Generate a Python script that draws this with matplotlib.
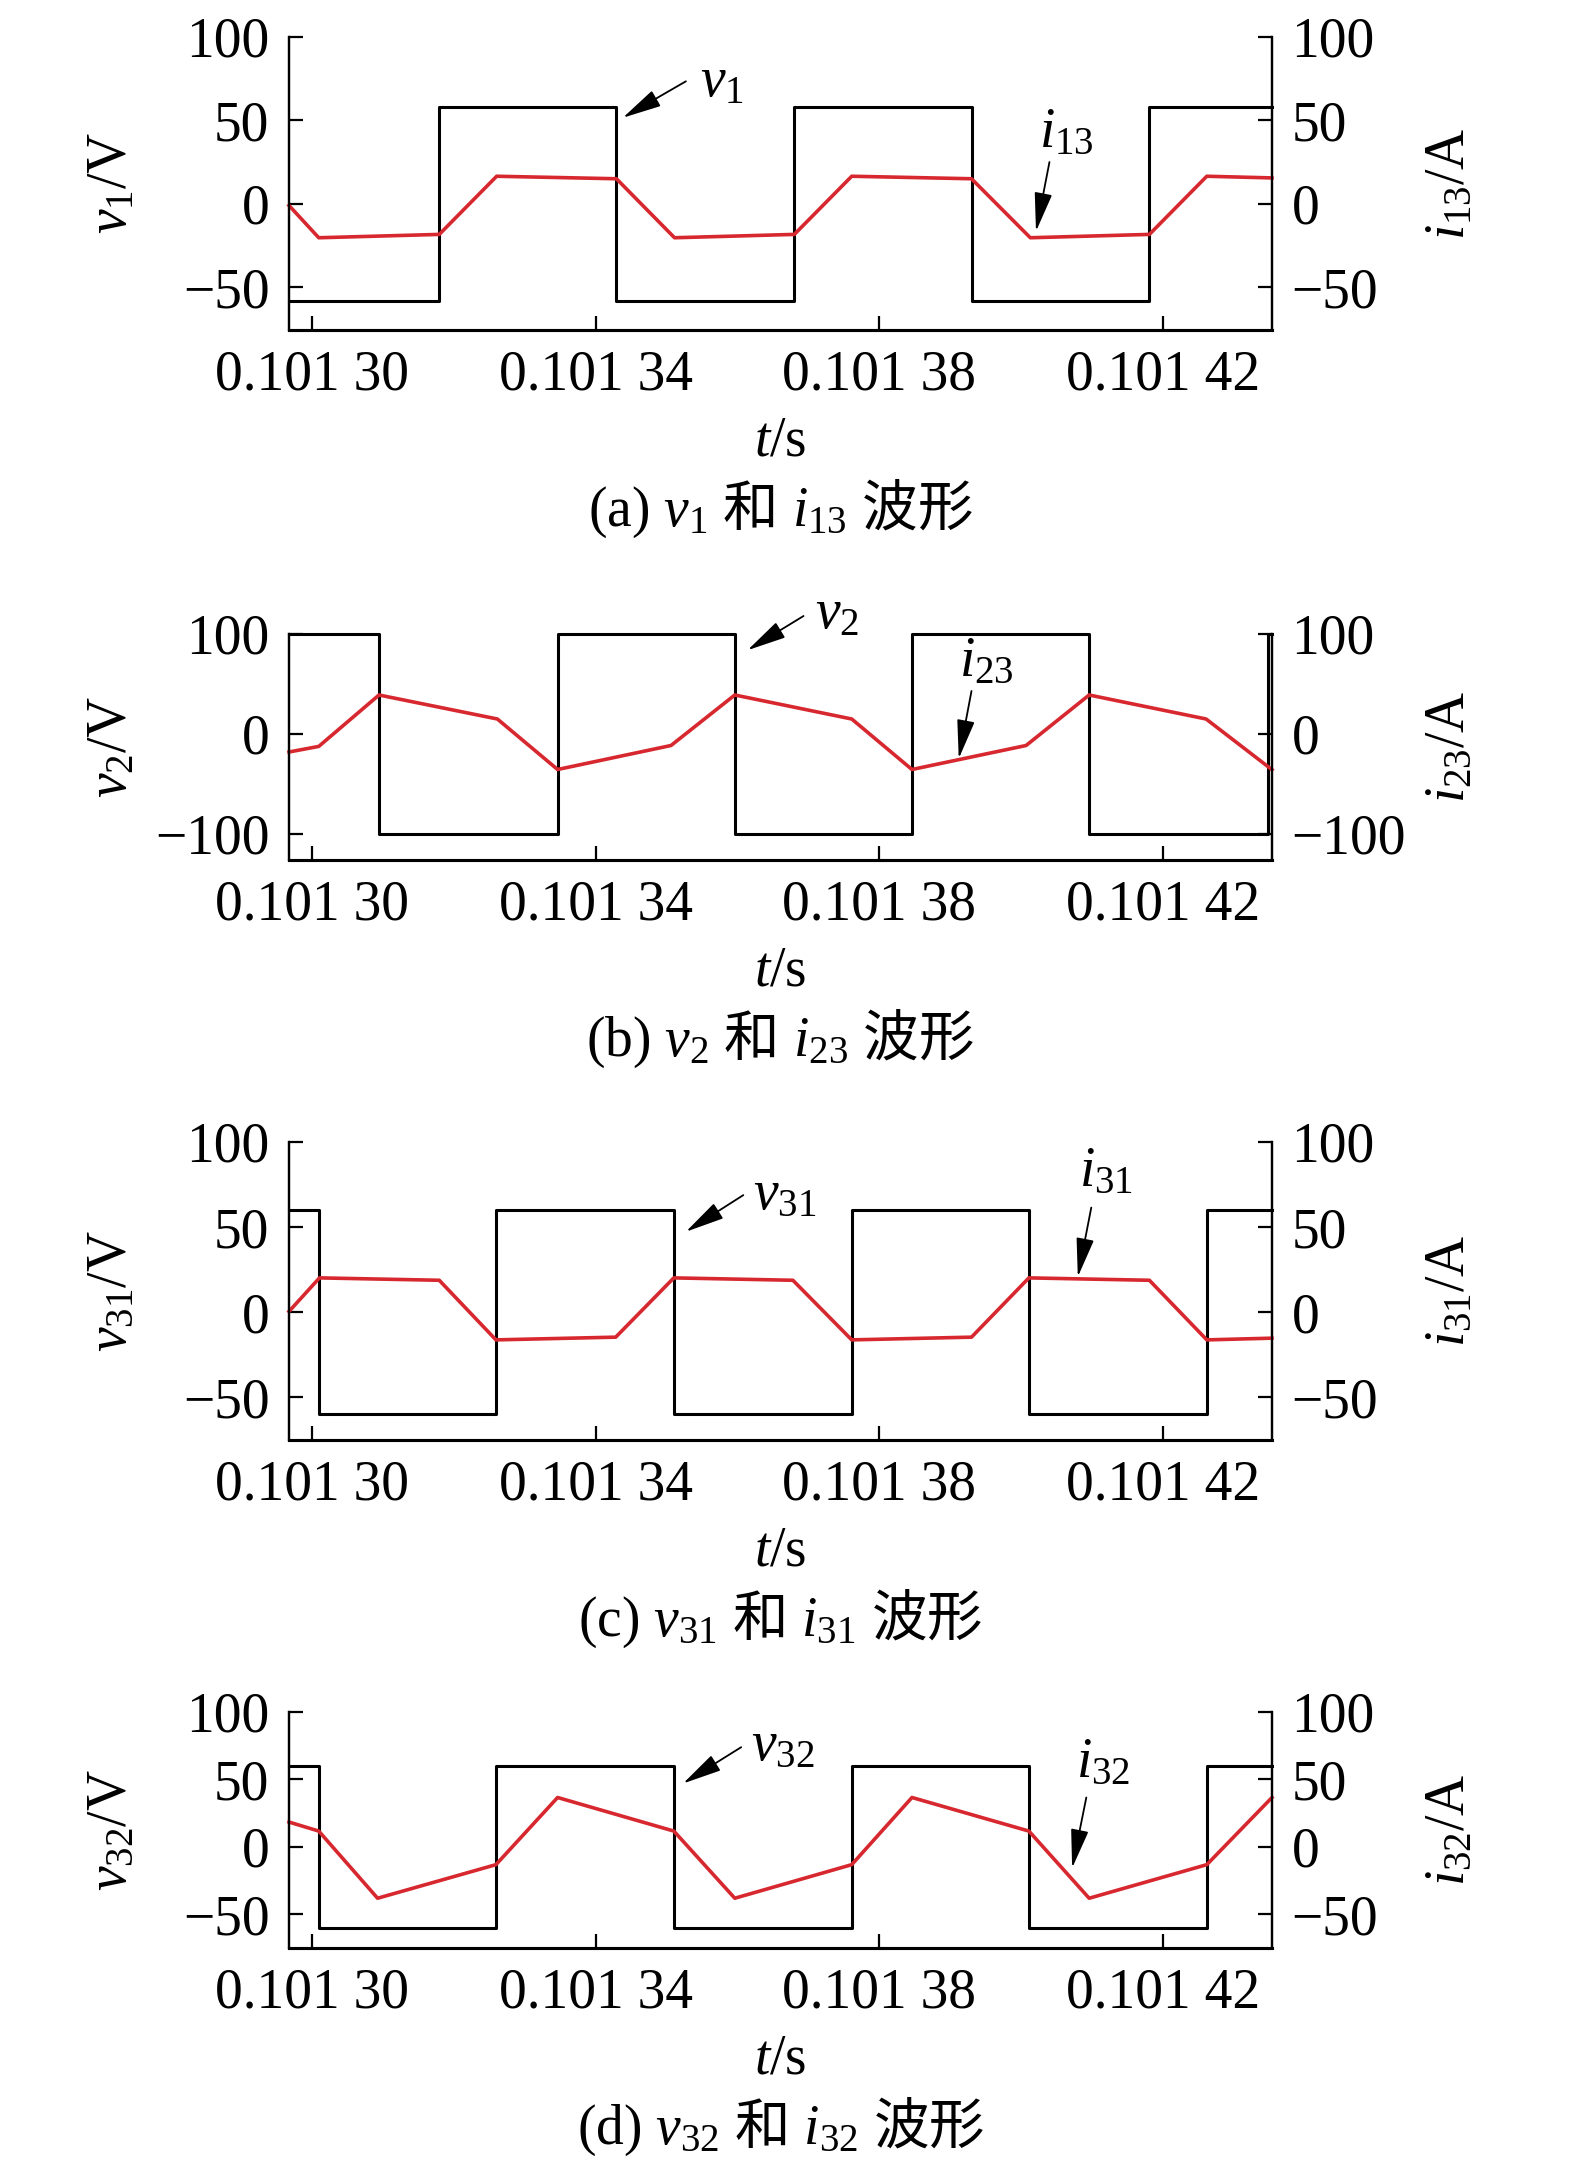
import matplotlib
matplotlib.use("Agg")
import matplotlib.pyplot as plt
import numpy as np

plt.rcParams["font.family"] = ["Liberation Serif", "Noto Sans CJK SC"]
plt.rcParams["mathtext.fontset"] = "custom"
plt.rcParams["mathtext.rm"] = "Liberation Serif"
plt.rcParams["mathtext.it"] = "Liberation Serif:italic"
plt.rcParams["mathtext.sf"] = "Noto Sans CJK SC"
plt.rcParams["font.size"] = 40

# time base: offsets in microseconds after 0.101 30 s
T0 = 0.10130
t_lim = (-3.3, 135.4)
xticks_us = [0, 40, 80, 120]
xtick_labels = ["0.101 30", "0.101 34", "0.101 38", "0.101 42"]

# (a) v1 / i13
v1_t = [-3.3, 17.9, 42.9, 68.0, 93.0, 118.1, 135.4]
v1 = [-58, 58, -58, 58, -58, 58, 58]
i13_t = [-3.3, 0.9, 17.9, 26.0, 42.9, 51.1, 68.0, 76.1, 93.0, 101.3, 118.1, 126.2, 135.4]
i13 = [-1.0, -20.3, -18.3, 16.5, 15.0, -20.3, -18.3, 16.5, 15.0, -20.3, -18.3, 16.5, 15.5]

# (b) v2 / i23
v2_t = [-3.3, 9.4, 34.6, 59.6, 84.6, 109.6, 134.8, 135.4]
v2 = [100, -100, 100, -100, 100, -100, 100, 100]
i23_t = [-3.3, 0.9, 9.4, 26.1, 34.6, 50.6, 59.6, 76.1, 84.6, 100.7, 109.6, 126.1, 135.4]
i23 = [-18.0, -12.4, 39.0, 15.0, -35.5, -11.5, 39.0, 15.0, -35.5, -11.5, 39.0, 15.0, -35.7]

# (c) v31 / i31
v31_t = [-3.3, 0.9, 25.9, 51.0, 76.1, 101.1, 126.2, 135.4]
v31 = [60, -60, 60, -60, 60, -60, 60, 60]
i31_t = [-3.3, 1.0, 17.9, 25.9, 42.8, 51.0, 67.8, 76.1, 93.0, 101.1, 118.1, 126.2, 135.4]
i31 = [0.5, 20.2, 18.8, -16.2, -14.6, 20.2, 18.8, -16.2, -14.6, 20.2, 18.8, -16.2, -15.2]

# (d) v32 / i32
v32_t = [-3.3, 0.9, 25.9, 51.0, 76.1, 101.1, 126.2, 135.4]
v32 = [60, -60, 60, -60, 60, -60, 60, 60]
i32_t = [-3.3, 0.9, 9.2, 25.9, 34.6, 51.0, 59.6, 76.1, 84.6, 101.1, 109.6, 126.2, 135.4]
i32 = [18.4, 11.7, -38.1, -13.2, 36.6, 11.7, -38.1, -13.2, 36.6, 11.7, -38.1, -13.2, 36.6]

panels = [
    dict(vt=v1_t, v=v1, it=i13_t, i=i13, ylim=(-75.5, 100), yticks=[-50, 0, 50, 100],
         vname="v_1", iname="i_{13}", tag="(a)", box=(36.7, 330),
         vtext=(54.7, 64.5), varrow=((52.7, 73.3), (43.8, 51.5)),
         itext=(102.5, 34.0), iarrow=((104.0, 25.0), (102.1, -16.5))),
    dict(vt=v2_t, v=v2, it=i23_t, i=i23, ylim=(-126, 100), yticks=[-100, 0, 100],
         vname="v_2", iname="i_{23}", tag="(b)", box=(634, 860),
         vtext=(70.9, 106.0), varrow=((69.3, 118.0), (61.4, 83.8)),
         itext=(91.2, 58.0), iarrow=((93.0, 43.0), (91.2, -24.6))),
    dict(vt=v31_t, v=v31, it=i31_t, i=i31, ylim=(-75, 100), yticks=[-50, 0, 50, 100],
         vname="v_{31}", iname="i_{31}", tag="(c)", box=(1142, 1440),
         vtext=(62.1, 60.4), varrow=((60.8, 68.8), (52.7, 47.3)),
         itext=(108.2, 74.0), iarrow=((109.9, 61.5), (108.0, 20.8))),
    dict(vt=v32_t, v=v32, it=i32_t, i=i32, ylim=(-75, 100), yticks=[-50, 0, 50, 100],
         vname="v_{32}", iname="i_{32}", tag="(d)", box=(1712, 1948),
         vtext=(61.9, 63.9), varrow=((60.5, 73.9), (52.3, 47.0)),
         itext=(107.8, 51.5), iarrow=((109.2, 36.6), (107.2, -15.7))),
]

W, H = 1575, 2174
left_px, right_px = 289, 1272
red = "#d7282f"

fig = plt.figure(figsize=(W / 100, H / 100), dpi=100)


def us(vals):
    return T0 + np.asarray(vals) * 1e-6


for p in panels:
    top_px, bot_px = p["box"]
    rect = [left_px / W, 1 - bot_px / H, (right_px - left_px) / W, (bot_px - top_px) / H]
    ax = fig.add_axes(rect)
    tw = ax.twinx()

    ax.step(us(p["vt"]), p["v"], where="post", color="k", lw=2.2, clip_on=False)
    tw.plot(us(p["it"]), p["i"], color=red, lw=2.6, clip_on=False)

    for a in (ax, tw):
        a.set_xlim(us(t_lim))
        a.set_ylim(p["ylim"])
        a.set_yticks(p["yticks"])
        a.spines["top"].set_visible(False)
        a.spines["left"].set_linewidth(1.6)
        a.spines["right"].set_linewidth(1.6)
        a.spines["bottom"].set_linewidth(2.2)
    ax.set_xticks(us(xticks_us))
    ax.set_xticklabels(xtick_labels)
    ax.tick_params(axis="x", direction="in", length=10, width=1.6, pad=14, labelsize=40)
    ax.tick_params(axis="y", direction="in", length=10, width=1.6, pad=14, labelsize=40,
                   right=False)
    tw.tick_params(axis="y", direction="in", length=10, width=1.6, pad=14, labelsize=40)

    span = right_px - left_px
    ax.set_ylabel(rf"${p['vname']}/\mathrm{{V}}$", fontsize=40, va="center")
    ax.yaxis.set_label_coords((112 - left_px) / span, 0.5)
    tw.set_ylabel(rf"${p['iname']}/\mathrm{{A}}$", fontsize=40, rotation=90, va="center")
    tw.yaxis.set_label_coords((1450 - left_px) / span, 0.5)

    xc = (left_px + right_px) / 2 / W
    fig.text(xc, 1 - (bot_px + 111) / H, r"$t/\mathrm{s}$", ha="center", va="center",
             fontsize=40)
    fig.text(xc, 1 - (bot_px + 178) / H,
             rf"{p['tag']} ${p['vname']}$ $\mathsf{{和}}$ ${p['iname']}$ $\mathsf{{波形}}$",
             ha="center", va="center", fontsize=40)

    arrow = dict(arrowstyle="-|>,head_length=1.1,head_width=0.25", color="k", lw=1.3,
                 mutation_scale=22, shrinkA=0, shrinkB=0)
    (vx0, vy0), (vx1, vy1) = p["varrow"]
    tw.annotate("", xy=(us(vx1), vy1), xytext=(us(vx0), vy0), arrowprops=arrow,
                annotation_clip=False)
    tw.text(us(p["vtext"][0]), p["vtext"][1], rf"${p['vname']}$", ha="left",
            va="baseline", fontsize=40, clip_on=False)
    (ix0, iy0), (ix1, iy1) = p["iarrow"]
    tw.annotate("", xy=(us(ix1), iy1), xytext=(us(ix0), iy0), arrowprops=arrow,
                annotation_clip=False)
    tw.text(us(p["itext"][0]), p["itext"][1], rf"${p['iname']}$", ha="left",
            va="baseline", fontsize=40, clip_on=False)

fig.savefig("out.png", dpi=100)
